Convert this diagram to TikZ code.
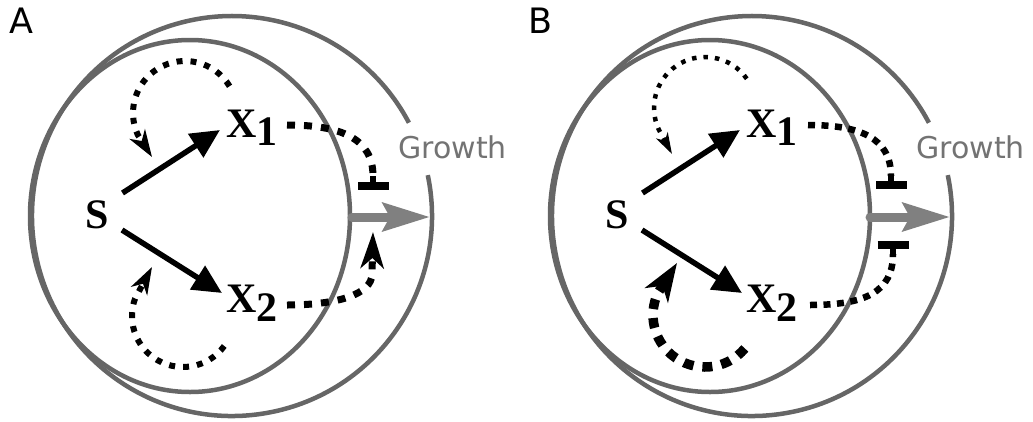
\documentclass[tikz,border=0pt]{standalone}
\usepackage{fontspec}
\setmainfont{Liberation Serif}
\newfontfamily\dejavu{DejaVu Sans}
\usetikzlibrary{arrows.meta,calc}
\definecolor{ringgray}{HTML}{666666}
\definecolor{arrowgray}{HTML}{808080}
\definecolor{textgray}{HTML}{737373}
\begin{document}
\begin{tikzpicture}[x=1pt,y=-1pt,
  ring/.style={draw=ringgray,line width=4.5pt},
  growarrow/.style={draw=arrowgray,line width=9pt,line cap=round,-{Stealth[length=47pt,width=28pt,inset=7pt]}},
  blk/.style={line width=5.5pt,-{Triangle[length=29pt,width=27pt]}},
  sym/.style={font=\fontsize{42}{50}\selectfont\bfseries,inner sep=0pt,anchor=base},
  symw/.style={sym,anchor=base west},
  panel/.style={font=\fontsize{35}{40}\selectfont\dejavu,inner sep=0pt,anchor=base west},
  growth/.style={font=\fontsize{30}{36}\selectfont\dejavu,text=textgray,inner sep=0pt,anchor=base west},
  loopA/.style={line width=6pt,dash pattern=on 6pt off 8pt,-{Stealth[length=27pt,width=18pt,inset=8pt]}},
  linkA/.style={line width=7pt,dash pattern=on 8pt off 9pt},
  loopthin/.style={line width=4.5pt,dash pattern=on 4.5pt off 7pt,-{Stealth[length=21pt,width=13pt,inset=6pt]}},
  loopthick/.style={line width=9.5pt,dash pattern=on 10pt off 9pt,-{Stealth[length=38pt,width=27pt,inset=11pt]}},
  linkB/.style={line width=6.5pt,dash pattern=on 7pt off 6.5pt},
  inhib/.style={-{Bar[width=31pt,line width'=8pt]}},
  activ/.style={-{Stealth[length=36pt,width=23pt,inset=10pt]}},
]
\useasboundingbox (0,0) rectangle (1033,421);

% ---------------- Panel A ----------------
\node[panel] (labA) at (9,33) {A};
\draw[ring] (190,216) ellipse [x radius=160, y radius=176];
\draw[ring] (232,216) ++(-11.8:200) arc[start angle=-11.8, end angle=332.2, radius=200];
\draw[growarrow] (352,217) -- (430,217);
\node[growth] (growthA) at (398,158) {Growth};

\node[sym] (SA) at (97.5,228) {S};
\node[symw] (X1A) at (226,137) {X\raisebox{-8pt}{1}};
\node[symw] (X2A) at (226,312) {X\raisebox{-9pt}{2}};

\draw[blk] ($(SA.base)+(25,-35)$) -- ($(X1A.base west)+(-6,-7)$);
\draw[blk] ($(SA.base)+(24.5,2)$) -- ($(X2A.base west)+(-4,-19)$);

\coordinate (tipA1) at (152,157);
\coordinate (tipA2) at (152,267);
\draw[loopA] (185,113) ++(-31:52) arc[start angle=-31, end angle=-205, radius=52] -- (tipA1);
\draw[loopA] (183,316) ++(36:51) arc[start angle=36, end angle=200, radius=51] -- (tipA2);

\coordinate (stubA) at (373,176);
\coordinate (barA) at (373,190);
\coordinate (actA) at (373,232);
\draw[linkA] ($(X1A.base west)+(61,-12)$) .. controls (340,125) and (373,138) .. (stubA);
\draw[line width=6pt,inhib] (stubA) -- (barA);
\draw[linkA,activ] ($(X2A.base west)+(61,-7)$) .. controls (335,305) and (372,295) .. (372,274) -- (actA);

% ---------------- Panel B ----------------
\node[panel] (labB) at (528,33) {B};
\draw[ring] (710,216) ellipse [x radius=160, y radius=176];
\draw[ring] (752,216) ++(-11.8:200) arc[start angle=-11.8, end angle=332.2, radius=200];
\draw[growarrow] (870,217) -- (950,217);
\node[growth] (growthB) at (916,158) {Growth};

\node[sym] (SB) at (617.5,228) {S};
\node[symw] (X1B) at (746,137) {X\raisebox{-8pt}{1}};
\node[symw] (X2B) at (746,312) {X\raisebox{-9pt}{2}};

\draw[blk] ($(SB.base)+(25,-35)$) -- ($(X1B.base west)+(-6,-7)$);
\draw[blk] ($(SB.base)+(24.5,2)$) -- ($(X2B.base west)+(-4,-19)$);

\coordinate (tipB1) at (672,154);
\coordinate (tipB2) at (677,263);
\draw[loopthin] (705,108) ++(-35:51) arc[start angle=-35, end angle=-205, radius=51] -- (tipB1);
\draw[loopthick] (705,315) ++(40:52) arc[start angle=40, end angle=205, radius=52] -- (tipB2);

\coordinate (stubB1) at (891,176);
\coordinate (barB1) at (891,189);
\coordinate (stubB2) at (893,254);
\coordinate (barB2) at (893,241);
\draw[linkB] ($(X1B.base west)+(62,-12)$) .. controls (860,125) and (891,138) .. (stubB1);
\draw[line width=5.5pt,inhib] (stubB1) -- (barB1);
\draw[linkB] ($(X2B.base west)+(64,-7)$) .. controls (865,305) and (893,292) .. (stubB2);
\draw[line width=5.5pt,inhib] (stubB2) -- (barB2);
\end{tikzpicture}
\end{document}
